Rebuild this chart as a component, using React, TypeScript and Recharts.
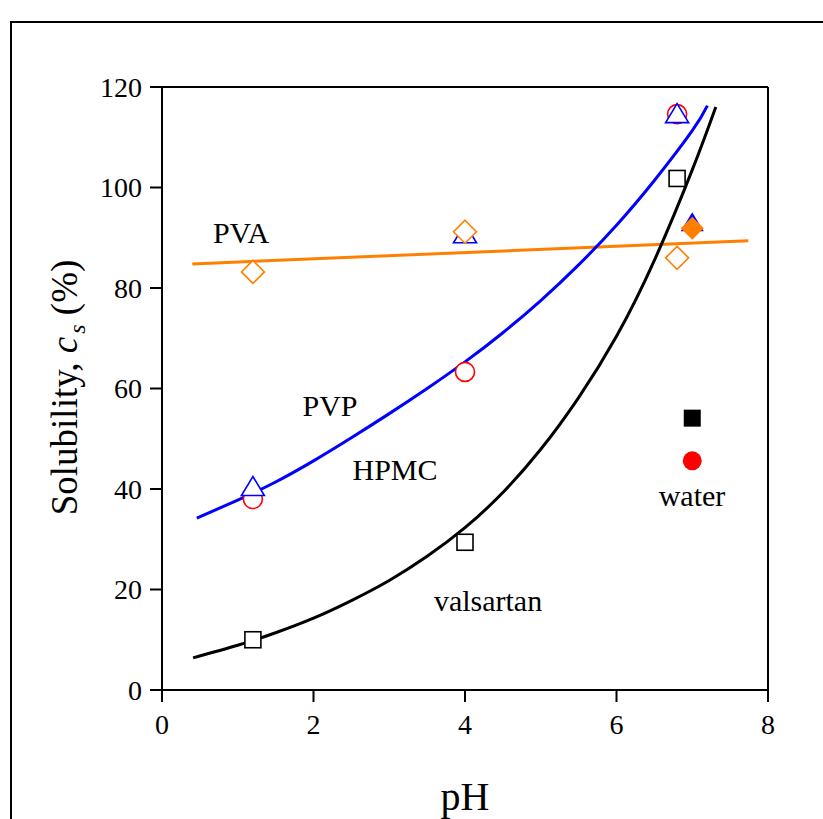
import React from 'react';
import {
  ComposedChart, Line, Scatter, XAxis, YAxis,
} from 'recharts';

// ---- data ----
const valsartanPts = [
  { x: 1.2, y: 10.0 },
  { x: 4.0, y: 29.4 },
  { x: 6.8, y: 101.8 },
];
const hpmcPts = [
  { x: 1.2, y: 38.0 },
  { x: 4.0, y: 63.3 },
  { x: 6.8, y: 114.6 },
];
const pvpPts = [
  { x: 1.2, y: 40.4 },
  { x: 4.0, y: 90.7 },
  { x: 6.8, y: 114.6 },
];
const pvaPts = [
  { x: 1.2, y: 83.2 },
  { x: 4.0, y: 91.2 },
  { x: 6.8, y: 86.0 },
];
const waterValsartan = [{ x: 7.0, y: 54.1 }];
const waterHpmc = [{ x: 7.0, y: 45.6 }];
const waterPvp = [{ x: 7.0, y: 93.0 }];
const waterPva = [{ x: 7.0, y: 91.9 }];

const valsartanCurve = [
  { x: 0.41, y: 6.4 }, { x: 1.0, y: 8.9 }, { x: 1.5, y: 11.4 }, { x: 2.0, y: 14.3 },
  { x: 2.5, y: 17.8 }, { x: 3.0, y: 21.8 }, { x: 3.5, y: 26.6 }, { x: 4.0, y: 32.3 },
  { x: 4.5, y: 39.3 }, { x: 5.0, y: 47.9 }, { x: 5.5, y: 58.2 }, { x: 6.0, y: 70.4 },
  { x: 6.5, y: 85.5 }, { x: 7.0, y: 103.5 }, { x: 7.31, y: 116.0 },
];
const pvpCurve = [
  { x: 0.46, y: 34.2 }, { x: 1.0, y: 37.8 }, { x: 1.5, y: 41.4 }, { x: 2.0, y: 45.6 },
  { x: 2.5, y: 50.2 }, { x: 3.0, y: 55.0 }, { x: 3.5, y: 60.0 }, { x: 4.0, y: 65.3 },
  { x: 4.5, y: 71.1 }, { x: 5.0, y: 77.5 }, { x: 5.5, y: 84.6 }, { x: 6.0, y: 92.5 },
  { x: 6.5, y: 101.4 }, { x: 7.0, y: 111.3 }, { x: 7.2, y: 116.3 },
];
const pvaCurve = [
  { x: 0.4, y: 84.8 },
  { x: 7.74, y: 89.4 },
];

const seriesLabels = [
  { x: 1.043, y: 90.95, text: 'PVA' },
  { x: 2.218, y: 56.7, text: 'PVP' },
  { x: 3.076, y: 43.8, text: 'HPMC' },
  { x: 4.304, y: 17.9, text: 'valsartan' },
  { x: 6.997, y: 38.8, text: 'water' },
];

const xMajorTicks = [0, 2, 4, 6, 8];
const xAllTicks = [0, 1, 2, 3, 4, 5, 6, 7, 8];
const yMajorTicks = [0, 20, 40, 60, 80, 100, 120];
const yAllTicks = [0, 10, 20, 30, 40, 50, 60, 70, 80, 90, 100, 110, 120];
const xMinorTicks = [{ x: 1, y: 0 }, { x: 3, y: 0 }, { x: 5, y: 0 }, { x: 7, y: 0 }];
const yMinorTicks = [
  { x: 0, y: 10 }, { x: 0, y: 30 }, { x: 0, y: 50 }, { x: 0, y: 70 }, { x: 0, y: 90 }, { x: 0, y: 110 },
];

// ---- styling ----
const FONT = '"Liberation Serif", "Times New Roman", serif';
const BLACK = '#000000';
const RED = '#ff0000';
const BLUE = '#0000ff';
const ORANGE = '#ff7f00';
const WHITE = '#ffffff';

const tickText = { fontFamily: FONT, fontSize: 28, fill: BLACK };

const openSquare = (color: string) => (p: any) => (
  <rect x={p.cx - 8} y={p.cy - 8} width={16} height={16} fill={WHITE} stroke={color} strokeWidth={1.6} />
);
const filledSquare = (color: string) => (p: any) => (
  <rect x={p.cx - 8.5} y={p.cy - 8.5} width={17} height={17} fill={color} stroke="none" />
);
const openCircle = (color: string) => (p: any) => (
  <circle cx={p.cx} cy={p.cy} r={9.5} fill={WHITE} stroke={color} strokeWidth={1.6} />
);
const filledCircle = (color: string) => (p: any) => (
  <circle cx={p.cx} cy={p.cy} r={9.5} fill={color} stroke="none" />
);
const triPath = (cx: number, cy: number) =>
  `M${cx},${cy - 10.5} L${cx + 11.5},${cy + 8.5} L${cx - 11.5},${cy + 8.5} Z`;
const openTriangle = (color: string) => (p: any) => (
  <path d={triPath(p.cx, p.cy)} fill={WHITE} stroke={color} strokeWidth={1.6} />
);
const filledTriangle = (color: string) => (p: any) => (
  <path d={triPath(p.cx, p.cy)} fill={color} stroke="none" />
);
const diaPath = (cx: number, cy: number) =>
  `M${cx},${cy - 11.5} L${cx + 11.5},${cy} L${cx},${cy + 11.5} L${cx - 11.5},${cy} Z`;
const openDiamond = (color: string) => (p: any) => (
  <path d={diaPath(p.cx, p.cy)} fill={WHITE} stroke={color} strokeWidth={1.6} />
);
const filledDiamond = (color: string) => (p: any) => (
  <path d={diaPath(p.cx, p.cy)} fill={color} stroke="none" />
);
const textShape = (p: any) => (
  <text x={p.cx} y={p.cy} textAnchor="middle" dominantBaseline="central" fontFamily={FONT} fontSize={30} fill={BLACK}>
    {p.payload.text}
  </text>
);
const xMinorShape = (p: any) => (
  <line x1={p.cx} x2={p.cx} y1={p.cy} y2={p.cy + 4} stroke={BLACK} strokeWidth={2} />
);
const yMinorShape = (p: any) => (
  <line x1={p.cx} x2={p.cx - 4} y1={p.cy} y2={p.cy} stroke={BLACK} strokeWidth={2} />
);

const YTitle = (props: any) => {
  const vb = props.viewBox || { y: 87, height: 603 };
  const cy = vb.y + vb.height / 2 - 1;
  return (
    <g transform={`translate(77, ${cy}) rotate(-90)`}>
      <text x={0} y={0} textAnchor="middle" fontFamily={FONT} fontSize={37} fill={BLACK}>
        Solubility,{' '}
        <tspan fontStyle="italic">c</tspan>
        <tspan fontStyle="italic" fontSize={24} dx={3} dy={8}>s</tspan>
        <tspan dy={-8}>{' '}(%)</tspan>
      </text>
    </g>
  );
};

const XTitle = (props: any) => {
  const vb = props.viewBox || { x: 162, width: 606 };
  return (
    <text x={vb.x + vb.width / 2} y={810} textAnchor="middle" fontFamily={FONT} fontSize={40} fill={BLACK}>
      pH
    </text>
  );
};

export default function App() {
  return (
    <div style={{ position: 'absolute', left: 0, top: 0, width: 823, height: 819, overflow: 'hidden', background: '#ffffff' }}>
      <div
        style={{
          position: 'absolute', left: 10, top: 21, width: 900, height: 900,
          border: '2px solid #000', boxSizing: 'border-box',
        }}
      />
      <div style={{ position: 'absolute', left: 0, top: 0 }}>
        <ComposedChart width={823} height={819} margin={{ top: 77, right: 45, bottom: 69, left: 102 }}>
          <XAxis
            xAxisId={0}
            dataKey="x"
            type="number"
            domain={[0, 8]}
            ticks={xMajorTicks}
            interval={0}
            allowDataOverflow
            height={60}
            tickSize={12}
            tickMargin={12}
            tickLine={{ stroke: BLACK, strokeWidth: 2 }}
            axisLine={{ stroke: BLACK, strokeWidth: 2 }}
            tick={tickText}
            label={<XTitle />}
          />
          <XAxis
            xAxisId="top"
            orientation="top"
            type="number"
            domain={[0, 8]}
            ticks={xAllTicks}
            interval={0}
            allowDataOverflow
            height={10}
            tickSize={3}
            tick={false}
            tickLine={{ stroke: BLACK, strokeWidth: 2 }}
            axisLine={{ stroke: BLACK, strokeWidth: 2 }}
          />
          <YAxis
            yAxisId={0}
            dataKey="y"
            type="number"
            domain={[0, 120]}
            ticks={yMajorTicks}
            interval={0}
            allowDataOverflow
            width={60}
            tickSize={12}
            tickMargin={8}
            tickLine={{ stroke: BLACK, strokeWidth: 2 }}
            axisLine={{ stroke: BLACK, strokeWidth: 2 }}
            tick={tickText}
            label={<YTitle />}
          />
          <YAxis
            yAxisId="right"
            orientation="right"
            type="number"
            domain={[0, 120]}
            ticks={yAllTicks}
            interval={0}
            allowDataOverflow
            width={10}
            tickSize={3}
            tick={false}
            tickLine={{ stroke: BLACK, strokeWidth: 2 }}
            axisLine={{ stroke: BLACK, strokeWidth: 2 }}
          />

          <Scatter data={xMinorTicks} shape={xMinorShape} isAnimationActive={false} />
          <Scatter data={yMinorTicks} shape={yMinorShape} isAnimationActive={false} />

          <Scatter data={hpmcPts} shape={openCircle(RED)} isAnimationActive={false} />
          <Scatter data={valsartanPts} shape={openSquare(BLACK)} isAnimationActive={false} />
          <Scatter data={pvpPts} shape={openTriangle(BLUE)} isAnimationActive={false} />
          <Scatter data={pvaPts} shape={openDiamond(ORANGE)} isAnimationActive={false} />

          <Scatter data={waterValsartan} shape={filledSquare(BLACK)} isAnimationActive={false} />
          <Scatter data={waterHpmc} shape={filledCircle(RED)} isAnimationActive={false} />
          <Scatter data={waterPvp} shape={filledTriangle(BLUE)} isAnimationActive={false} />
          <Scatter data={waterPva} shape={filledDiamond(ORANGE)} isAnimationActive={false} />

          <Line data={pvaCurve} dataKey="y" type="linear" stroke={ORANGE} strokeWidth={3} dot={false} activeDot={false} isAnimationActive={false} />
          <Line data={pvpCurve} dataKey="y" type="natural" stroke={BLUE} strokeWidth={3} dot={false} activeDot={false} isAnimationActive={false} />
          <Line data={valsartanCurve} dataKey="y" type="natural" stroke={BLACK} strokeWidth={3} dot={false} activeDot={false} isAnimationActive={false} />

          <Scatter data={seriesLabels} shape={textShape} isAnimationActive={false} />
        </ComposedChart>
      </div>
    </div>
  );
}
